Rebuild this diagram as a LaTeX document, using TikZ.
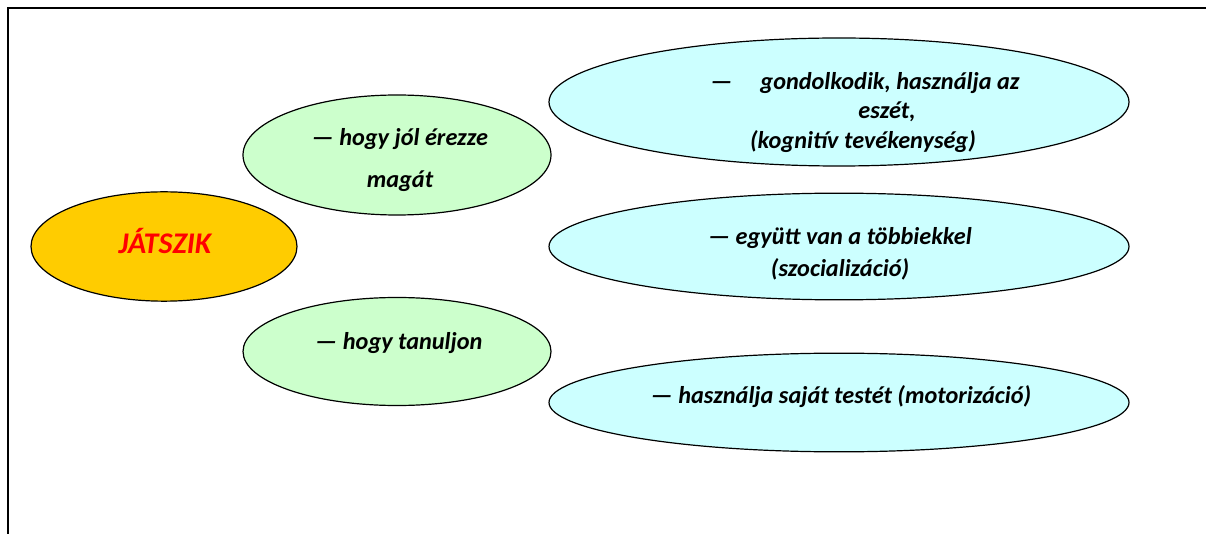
\documentclass[tikz,border=0pt]{standalone}
\usepackage{fontspec}
\setmainfont{Carlito}
\usetikzlibrary{shapes.geometric}
\definecolor{gold}{HTML}{FFCC00}
\definecolor{lgreen}{HTML}{CCFFCC}
\definecolor{lcyan}{HTML}{CCFFFF}
\definecolor{tred}{HTML}{FF0000}
\begin{document}
\begin{tikzpicture}[x=0.75pt,y=-0.75pt,
  ell/.style={ellipse,draw=black,line width=0.9pt,inner sep=0pt},
  playell/.style={ell,fill=gold},
  greenell/.style={ell,fill=lgreen,minimum width=231pt},
  blueell/.style={ell,fill=lcyan,minimum width=435pt},
  lbl/.style={font=\fontsize{18.2}{22}\selectfont\bfseries\itshape,inner sep=0pt,align=center},
  frame/.style={line width=1.6pt}]
\useasboundingbox (0,0) rectangle (1206,534);
\draw[frame] (1206,8) -- (8,8) -- (8,534);

\node[playell,minimum width=199.5pt,minimum height=82pt] (play) at (164,246.5) {};
\node[lbl,text=tred,font=\fontsize{22.5}{26}\selectfont\bfseries\itshape] (playt) at (165,241) {JÁTSZIK};

\node[greenell,minimum height=90pt] (g1) at (397,155) {};
\node[lbl,font=\fontsize{18.2}{31.5}\selectfont\bfseries\itshape] (g1t) at (400,160) {— hogy jól érezze\\magát};

\node[greenell,minimum height=81pt] (g2) at (397,351.5) {};
\node[lbl] (g2t) at (399,343) {— hogy tanuljon};

\node[blueell,minimum height=96pt] (b1) at (839,102) {};
\node[lbl] (b1a) at (865,83) {—\hspace{21pt}gondolkodik, használja az};
\node[lbl] (b1b) at (887,112) {eszét,};
\node[lbl] (b1c) at (863,142) {(kognitív tevékenység)};

\node[blueell,minimum height=80pt] (b2) at (839,246.5) {};
\node[lbl,font=\fontsize{18.2}{24}\selectfont\bfseries\itshape] (b2t) at (840,254) {— együtt van a többiekkel\\(szocializáció)};

\node[blueell,minimum height=74pt] (b3) at (839,402.5) {};
\node[lbl] (b3t) at (841,397) {— használja saját testét (motorizáció)};
\end{tikzpicture}
\end{document}
